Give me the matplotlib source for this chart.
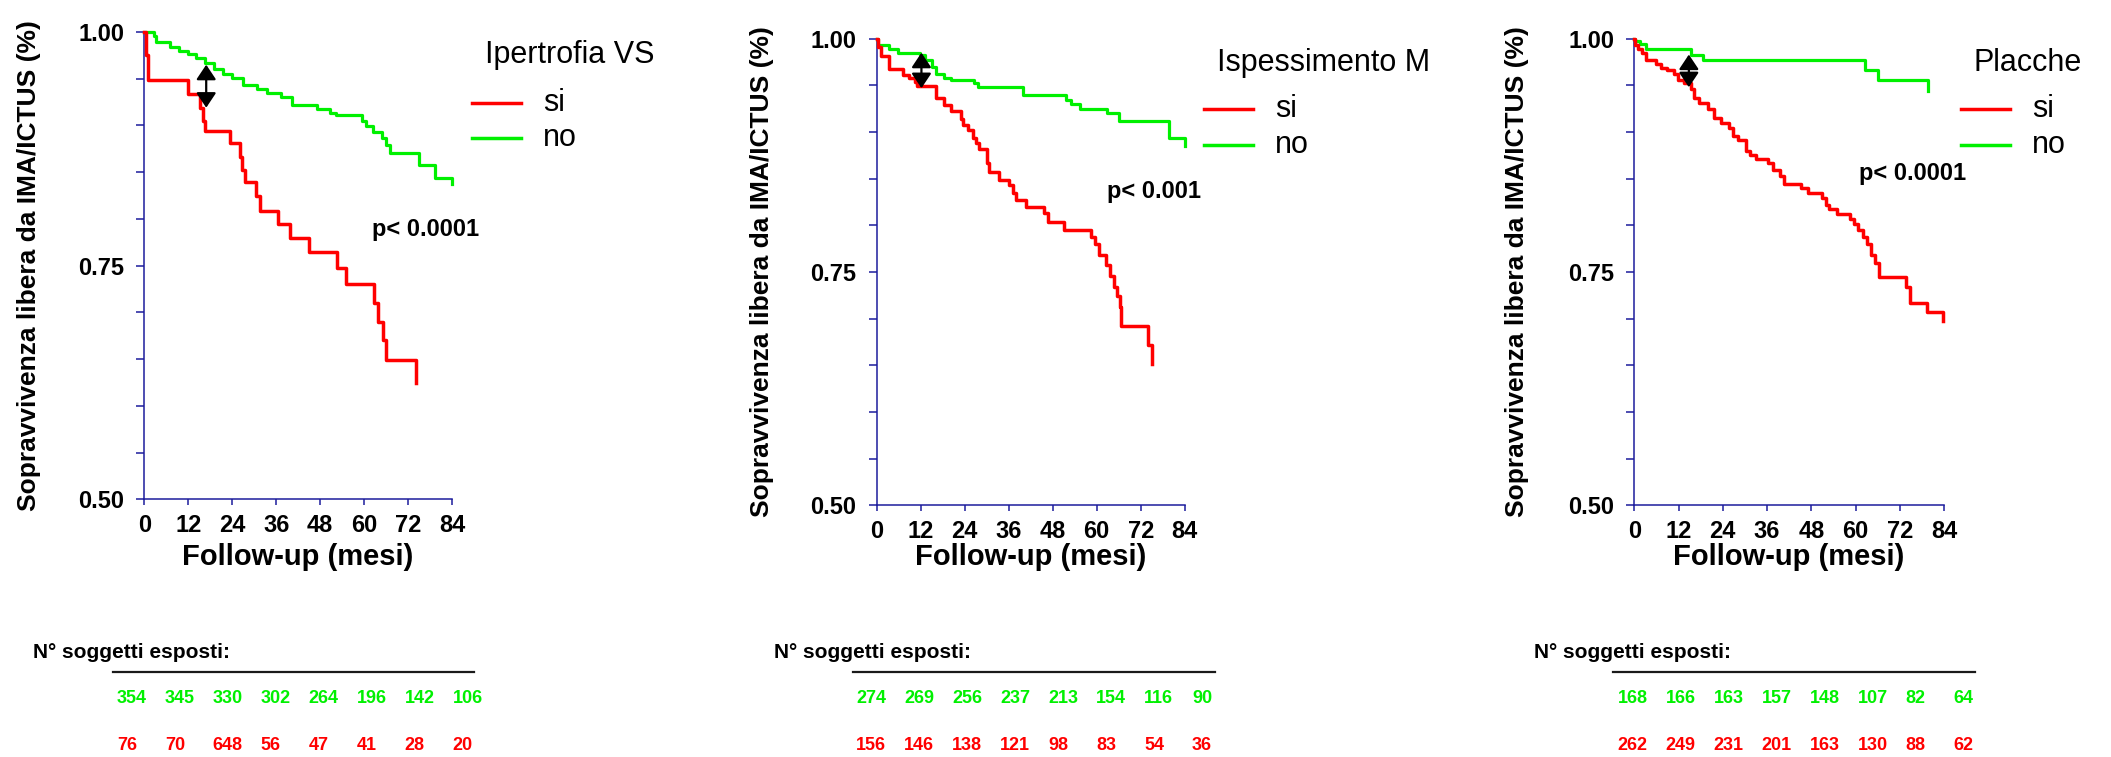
import numpy as np
import matplotlib
matplotlib.use("Agg")
import matplotlib.pyplot as plt
from matplotlib.lines import Line2D

plt.rcParams['font.family'] = ['Liberation Sans', 'DejaVu Sans']

# ---------------- data ----------------
group_titles = ["Ipertrofia VS", "Ispessimento M", "Placche"]
series_labels = ["si", "no"]
p_texts = ["p< 0.0001", "p< 0.001", "p< 0.0001"]
month_ticks = [0, 12, 24, 36, 48, 60, 72, 84]

# Panel 1 - Ipertrofia VS
t_si_1 = [0, 0.4, 1.0, 11.8, 15.1, 16.0, 16.7, 23.4, 26.0, 26.8, 27.6, 30.4, 31.5,
          36.4, 39.8, 45.0, 52.6, 55.0, 62.7, 63.8, 65.1, 66.0, 74.1]
s_si_1 = [1.0, 0.975, 0.949, 0.934, 0.919, 0.905, 0.894, 0.881, 0.866, 0.852, 0.839, 0.824, 0.809,
          0.795, 0.780, 0.765, 0.748, 0.730, 0.710, 0.690, 0.670, 0.649, 0.624]
t_no_1 = [0, 2.7, 3.3, 6.9, 9.4, 11.8, 14.2, 16.7, 19.1, 21.5, 24.0, 27.0, 30.7, 33.4,
          37.4, 40.4, 47.1, 50.8, 52.2, 59.3, 60.5, 62.3, 64.8, 66.0, 67.0, 74.9, 79.3, 84.0]
s_no_1 = [1.0, 0.996, 0.989, 0.984, 0.980, 0.976, 0.972, 0.967, 0.960, 0.955, 0.951, 0.943, 0.939, 0.935,
          0.930, 0.922, 0.918, 0.913, 0.911, 0.905, 0.899, 0.893, 0.887, 0.879, 0.871, 0.858, 0.844, 0.837]

# Panel 2 - Ispessimento
t_si_2 = [0, 0.4, 1.3, 3.3, 7.2, 8.8, 10.5, 11.1, 16.1, 18.3, 20.3, 22.9, 23.6, 24.9, 26.2,
          27.1, 27.8, 30.1, 30.7, 33.4, 36.0, 37.3, 38.0, 40.6, 45.5, 46.8, 51.0, 58.5, 59.5,
          60.6, 62.4, 63.7, 64.8, 65.4, 66.3, 66.7, 73.9, 75.2]
s_si_2 = [1.0, 0.991, 0.981, 0.968, 0.961, 0.958, 0.954, 0.949, 0.936, 0.929, 0.923, 0.914, 0.908, 0.902, 0.894,
          0.888, 0.882, 0.867, 0.857, 0.849, 0.843, 0.835, 0.827, 0.820, 0.813, 0.804, 0.795, 0.788, 0.780,
          0.768, 0.757, 0.746, 0.734, 0.724, 0.712, 0.692, 0.672, 0.651]
t_no_2 = [0, 0.3, 3.3, 5.9, 11.8, 13.1, 15.0, 16.1, 18.3, 20.3, 26.4, 27.5, 39.9, 51.7,
          53.0, 55.4, 62.8, 66.1, 79.6, 84.0]
s_no_2 = [1.0, 0.993, 0.989, 0.985, 0.983, 0.977, 0.970, 0.962, 0.958, 0.956, 0.952, 0.948, 0.940, 0.934,
          0.930, 0.925, 0.920, 0.912, 0.894, 0.885]

# Panel 3 - Placche
t_si_3 = [0, 0.3, 1.1, 2.0, 3.2, 5.8, 7.2, 9.0, 10.7, 11.9, 13.6, 15.3, 16.2, 17.6, 19.9,
          21.6, 23.6, 25.7, 26.8, 28.0, 30.3, 31.4, 33.1, 36.2, 37.7, 39.5, 40.6, 45.2, 47.0,
          51.0, 52.1, 52.9, 55.0, 58.5, 59.6, 60.8, 62.0, 63.1, 64.2, 65.4, 66.5, 73.8, 74.9,
          79.4, 83.6]
s_si_3 = [1.0, 0.993, 0.989, 0.985, 0.977, 0.973, 0.969, 0.966, 0.962, 0.956, 0.952, 0.946, 0.936, 0.931, 0.925,
          0.915, 0.910, 0.904, 0.896, 0.891, 0.880, 0.875, 0.871, 0.867, 0.859, 0.853, 0.844, 0.840, 0.835,
          0.829, 0.822, 0.817, 0.812, 0.807, 0.801, 0.795, 0.788, 0.780, 0.768, 0.760, 0.745, 0.734, 0.717,
          0.707, 0.697]
t_no_3 = [0, 0.3, 1.5, 3.2, 15.5, 18.5, 62.5, 66.0, 79.7]
s_no_3 = [1.0, 0.997, 0.994, 0.989, 0.983, 0.977, 0.966, 0.956, 0.944]

# gap markers (month, upper, lower)
gap_month = [16.9, 12.2, 14.8]
gap_upper = [0.965, 0.985, 0.983]
gap_lower = [0.919, 0.947, 0.948]

# p-value label anchors (month, survival)
p_month = [62.2, 62.8, 60.9]
p_surv = [0.789, 0.836, 0.8555]

# subjects at risk
risk_no_1 = [354, 345, 330, 302, 264, 196, 142, 106]
risk_si_1 = [76, 70, 648, 56, 47, 41, 28, 20]
risk_no_2 = [274, 269, 256, 237, 213, 154, 116, 90]
risk_si_2 = [156, 146, 138, 121, 98, 83, 54, 36]
risk_no_3 = [168, 166, 163, 157, 148, 107, 82, 64]
risk_si_3 = [262, 249, 231, 201, 163, 130, 88, 62]

curves = [
    ((t_si_1, s_si_1), (t_no_1, s_no_1)),
    ((t_si_2, s_si_2), (t_no_2, s_no_2)),
    ((t_si_3, s_si_3), (t_no_3, s_no_3)),
]
risks = [(risk_no_1, risk_si_1), (risk_no_2, risk_si_2), (risk_no_3, risk_si_3)]

# ---------------- layout (pixels) ----------------
W, H = 2111, 757
RED = "#ff0000"
GREEN = "#00f000"
AXC = "#1c1c9c"


def fx(x):
    return x / W


def fy(y):
    return 1 - y / H


axes_px = [(144.3, 452.0, 32.0, 499.3),
           (876.7, 1184.7, 38.7, 505.3),
           (1634.3, 1944.0, 38.7, 505.3)]
ylabel_x = [29, 762, 1517]
legend_x = [471.7, 1204.0, 1960.7]
legend_y = [(55.4, 102.7, 137.8), (62.8, 109.3, 144.8), (62.8, 109.3, 144.8)]
table_title_x = [33.4, 774.0, 1534.0]
table_line = [(112.8, 474.0), (853.0, 1214.6), (1613.4, 1975.0)]
table_num_x0 = [116.8, 856.0, 1617.6]
table_dx = 48.0

fig = plt.figure(figsize=(W / 100, H / 100), dpi=100)
fig.patch.set_facecolor("white")

for i in range(3):
    l, r, t, b = axes_px[i]
    ax = fig.add_axes([fx(l), fy(b), (r - l) / W, (b - t) / H])
    ax.set_xlim(0, 84)
    ax.set_ylim(0.5, 1.0)
    for side in ("top", "right"):
        ax.spines[side].set_visible(False)
    for side in ("left", "bottom"):
        ax.spines[side].set_color(AXC)
        ax.spines[side].set_linewidth(1.1)

    ax.set_xticks(month_ticks)
    ax.set_xticklabels([str(m) for m in month_ticks])
    ax.set_yticks([0.5, 0.75, 1.0])
    ax.set_yticklabels(["0.50", "0.75", "1.00"])
    ax.set_yticks([0.55, 0.60, 0.65, 0.70, 0.80, 0.85, 0.90, 0.95], minor=True)
    ax.tick_params(axis="y", which="both", direction="out", length=5.5, width=1.1,
                   color=AXC, labelsize=17, pad=9)
    ax.tick_params(axis="x", which="both", direction="out", length=4.3, width=1.1,
                   color=AXC, labelsize=17, pad=6)
    for lab in ax.get_xticklabels() + ax.get_yticklabels():
        lab.set_fontweight("bold")

    ax.set_xlabel("Follow-up (mesi)", fontsize=21, fontweight="bold", va="top")
    ax.xaxis.set_label_coords(0.5, (b - 543.0) / (b - t))
    ax.set_ylabel("Sopravvivenza libera da IMA/ICTUS (%)", fontsize=19, fontweight="bold")
    ax.yaxis.label.set_verticalalignment("center")
    ax.yaxis.set_label_coords((ylabel_x[i] - l) / (r - l), 0.5)

    (ts, ss), (tn, sn) = curves[i]
    ax.step(tn, sn, where="post", color=GREEN, lw=2.3, clip_on=False, zorder=3)
    ax.step(ts, ss, where="post", color=RED, lw=2.5, clip_on=False, zorder=4)

    ax.annotate("", xy=(gap_month[i], gap_lower[i]), xytext=(gap_month[i], gap_upper[i]),
                arrowprops=dict(arrowstyle="<|-|>,head_length=0.9,head_width=0.6",
                                mutation_scale=10, color="black", lw=1.6,
                                shrinkA=0, shrinkB=0), zorder=5)

    ax.text(p_month[i], p_surv[i], p_texts[i], fontsize=17, fontweight="bold",
            ha="left", va="center")

    # legend block
    lx = legend_x[i]
    ty, y_si, y_no = legend_y[i]
    fig.text(fx(lx + 13), fy(ty), group_titles[i], fontsize=22, ha="left", va="center")
    for yy, col, lab in ((y_si, RED, series_labels[0]), (y_no, GREEN, series_labels[1])):
        fig.add_artist(Line2D([fx(lx), fx(lx + 49)], [fy(yy), fy(yy)],
                              transform=fig.transFigure, color=col, lw=2.5))
        fig.text(fx(lx + 71), fy(yy), lab, fontsize=22, ha="left", va="center")

    # subjects-at-risk table
    fig.text(fx(table_title_x[i]), fy(658), "N° soggetti esposti:", fontsize=15,
             fontweight="bold", ha="left", va="baseline")
    x1, x2 = table_line[i]
    fig.add_artist(Line2D([fx(x1), fx(x2)], [fy(671.7), fy(671.7)],
                          transform=fig.transFigure, color="#1a1a1a", lw=1.6))
    rn, rs = risks[i]
    for k in range(len(rn)):
        xx = fx(table_num_x0[i] + k * table_dx)
        fig.text(xx, fy(703), str(rn[k]), fontsize=13, fontweight="bold",
                 color=GREEN, ha="left", va="baseline")
        fig.text(xx, fy(750), str(rs[k]), fontsize=13, fontweight="bold",
                 color=RED, ha="left", va="baseline")

fig.savefig("out.png", dpi=100, facecolor="white")
